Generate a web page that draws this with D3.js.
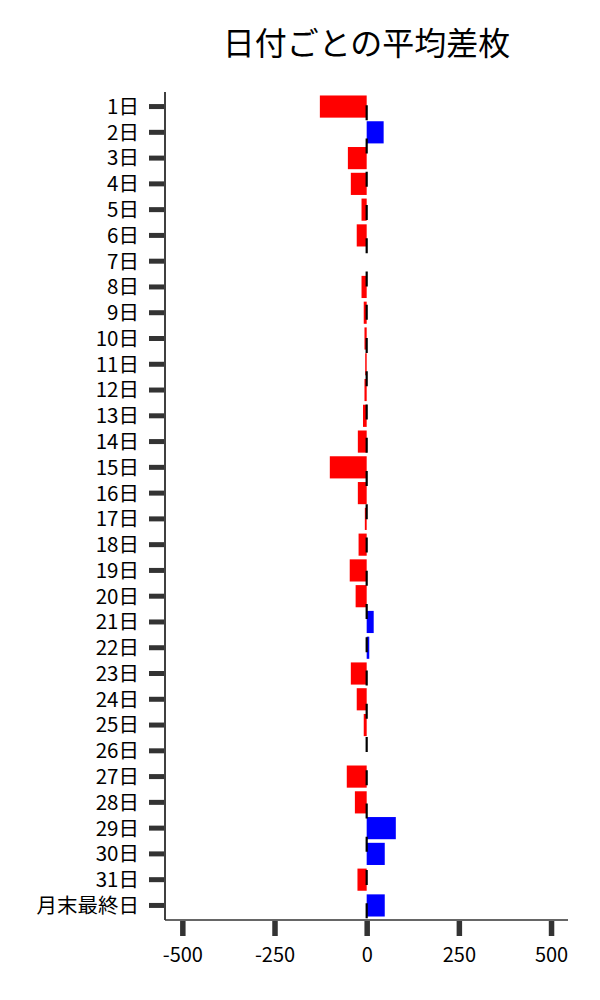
<!DOCTYPE html>
<html>
<head>
<meta charset="utf-8">
<script src="https://cdn.jsdelivr.net/npm/d3@7"></script>
<style>
  body { margin: 0; background: #fff; }
  text { font-family: "Noto Sans CJK JP", "Noto Sans", sans-serif; }
</style>
</head>
<body>
<script>
// 日付ごとの平均差枚
var days = ["1日","2日","3日","4日","5日","6日","7日","8日","9日","10日",
            "11日","12日","13日","14日","15日","16日","17日","18日","19日","20日",
            "21日","22日","23日","24日","25日","26日","27日","28日","29日","30日",
            "31日","月末最終日"];
var diffs = [-127, 46, -51, -43, -14, -27, 0, -14, -8, -6,
             -4, -6, -10, -24, -100, -24, -5, -22, -46, -30,
             19, 7, -43, -27, -8, 0, -54, -32, 79, 49,
             -25, 49];
var xTicks = [-500, -250, 0, 250, 500];

var W = 600, H = 1000;
var margin = {left: 165, right: 568, top: 92, bottom: 920};

var svg = d3.select("body").append("svg")
    .attr("width", W)
    .attr("height", H);

var x = d3.scaleLinear()
    .domain([-547, 546])
    .range([margin.left, margin.right]);

var y = d3.scaleBand()
    .domain(days)
    .range([margin.top, margin.bottom])
    .paddingInner(0.14)
    .paddingOuter(0.135);

// bars
svg.append("g")
  .selectAll("rect")
  .data(days)
  .enter().append("rect")
    .attr("x", function (d, i) { return x(Math.min(0, diffs[i])); })
    .attr("y", function (d) { return y(d); })
    .attr("width", function (d, i) { return Math.abs(x(diffs[i]) - x(0)); })
    .attr("height", y.bandwidth())
    .attr("fill", function (d, i) { return diffs[i] >= 0 ? "#0000ff" : "#ff0000"; });

// zero line
svg.append("line")
    .attr("x1", x(0)).attr("x2", x(0))
    .attr("y1", margin.top).attr("y2", margin.bottom)
    .attr("stroke", "#000")
    .attr("stroke-width", 2.2)
    .attr("stroke-dasharray", "15,18.25")
    .attr("stroke-dashoffset", 20);

// y axis
var yAxis = svg.append("g")
    .attr("transform", "translate(" + (margin.left - 1) + ",0)")
    .call(d3.axisLeft(y).tickSize(15).tickPadding(10));
yAxis.select(".domain").remove();
yAxis.selectAll(".tick line").attr("stroke", "#333").attr("stroke-width", 5);
yAxis.selectAll(".tick text")
    .attr("font-size", 20.5)
    .attr("fill", "#000")
    .attr("dy", "0.36em")
    .style("font-family", '"Noto Sans CJK JP", sans-serif');

// x axis
var xAxis = svg.append("g")
    .attr("transform", "translate(0," + (margin.bottom + 1) + ")")
    .call(d3.axisBottom(x).tickValues(xTicks).tickSize(15).tickPadding(12));
xAxis.select(".domain").remove();
xAxis.selectAll(".tick line").attr("stroke", "#333").attr("stroke-width", 5.5);
xAxis.selectAll(".tick text")
    .attr("font-size", 20)
    .attr("fill", "#000")
    .style("font-family", '"Noto Sans CJK JP", sans-serif')
    .text(function (d) { return d < 0 ? "-" + Math.abs(d) : d; });

// spines
svg.append("line")
    .attr("x1", margin.left).attr("x2", margin.left)
    .attr("y1", margin.top).attr("y2", margin.bottom)
    .attr("stroke", "#000").attr("stroke-width", 1.5);
svg.append("line")
    .attr("x1", margin.left).attr("x2", margin.right)
    .attr("y1", margin.bottom).attr("y2", margin.bottom)
    .attr("stroke", "#333").attr("stroke-width", 1.5);

// title
svg.append("text")
    .attr("x", (margin.left + margin.right) / 2)
    .attr("y", 55)
    .attr("text-anchor", "middle")
    .attr("font-size", 32)
    .attr("fill", "#000")
    .text("日付ごとの平均差枚");
</script>
</body>
</html>
